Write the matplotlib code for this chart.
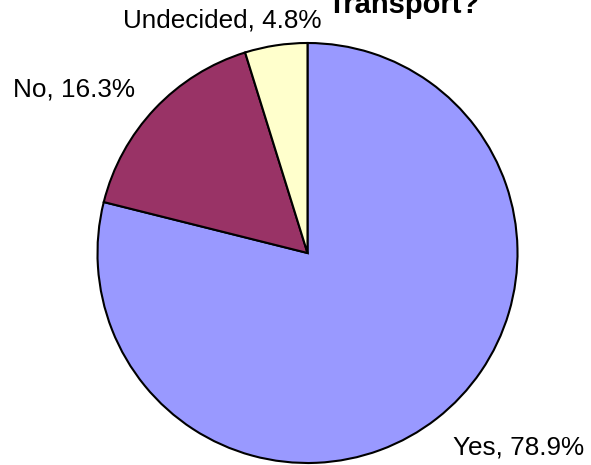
import matplotlib
matplotlib.use("Agg")
import matplotlib.pyplot as plt

plt.rcParams['font.family'] = ['Liberation Sans', 'DejaVu Sans']

labels = ['Yes', 'No', 'Undecided']
shares = [78.9, 16.3, 4.8]
colors = ['#9999FF', '#993366', '#FFFFCC']
title = 'Transport?'

W, H = 591, 465
fig = plt.figure(figsize=(W / 100, H / 100), dpi=100)
ax = fig.add_axes([0, 0, 1, 1])

ax.pie(shares, colors=colors, startangle=90, counterclock=False,
       center=(307.5, H - 253), radius=210, frame=True,
       wedgeprops=dict(edgecolor='black', linewidth=1.5))
ax.set_xlim(0, W)
ax.set_ylim(0, H)
ax.set_aspect('equal')
ax.axis('off')

# category labels (centre x, baseline y in pixels from the top)
label_pos = [(519, 455), (74, 96), (222, 28)]
for name, val, (x, y) in zip(labels, shares, label_pos):
    ax.text(x, H - y, '%s, %.1f%%' % (name, val), fontsize=18.8,
            ha='center', va='baseline')

# title is cut off at the top edge in the original
ax.text(404, H - 13, title, fontsize=21, fontweight='bold',
        ha='center', va='baseline', clip_on=False)

fig.savefig('out.png', dpi=100)
